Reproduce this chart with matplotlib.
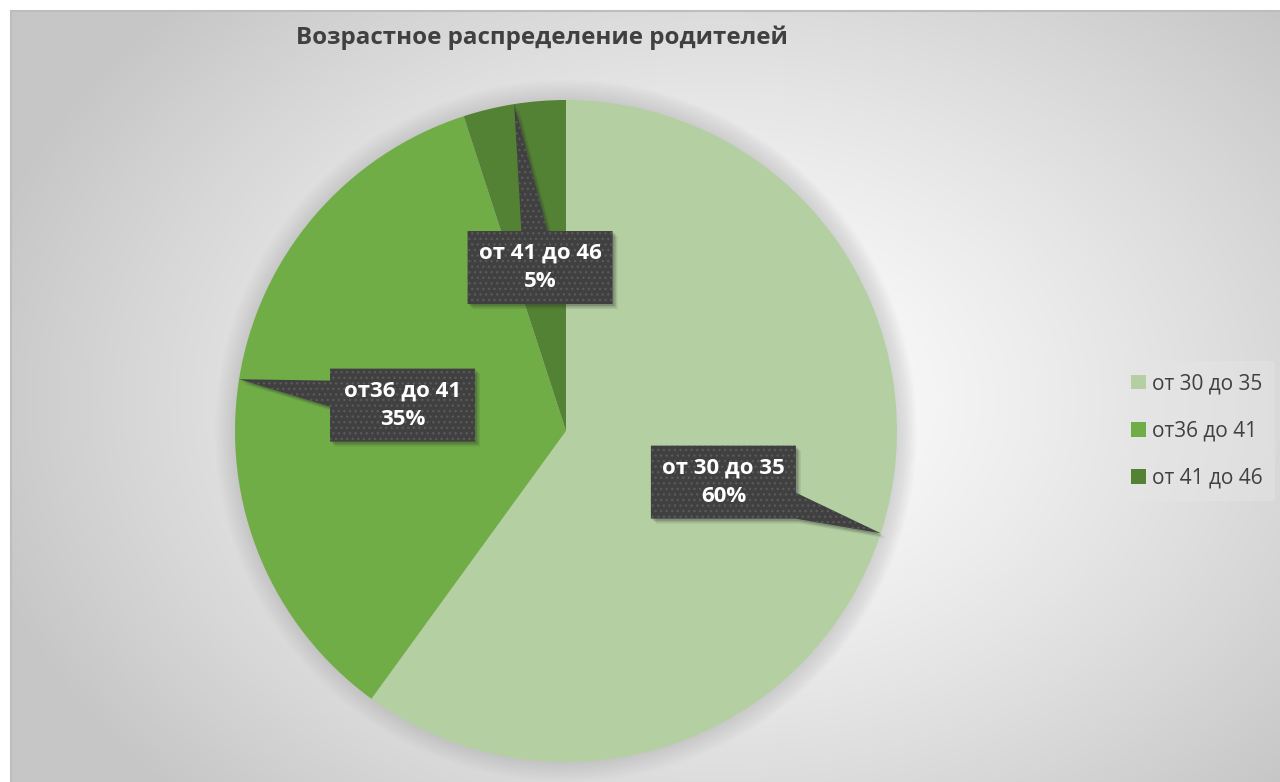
import numpy as np
import matplotlib
matplotlib.use("Agg")
import matplotlib.pyplot as plt
from matplotlib.patches import Polygon, Patch

# ---- data ----
title = "Возрастное распределение родителей"
categories = ["от 30 до 35", "от36 до 41", "от 41 до 46"]
values = [60, 35, 5]
colors = ["#B4D0A3", "#70AD47", "#548235"]

W, H = 1280, 782
plt.rcParams['font.family'] = ['Open Sans', 'DejaVu Sans']
plt.rcParams['hatch.linewidth'] = 1.0
fig = plt.figure(figsize=(W / 100, H / 100), dpi=100)
fig.patch.set_facecolor("white")

# ---- background (radial gradient chart area) ----
x0, y0 = 11, 11
bg = fig.add_axes([x0 / W, 0, (W - x0) / W, (H - y0) / H])
bg.set_axis_off()
gx = np.linspace(x0, W, 400)
gy = np.linspace(y0, H, 260)
XX, YY = np.meshgrid(gx, gy)
d = np.sqrt(((XX - 720) / 760) ** 2 + ((YY - 400) / 560) ** 2)
d = np.clip(d, 0, 1)
shade = 1.0 - 0.22 * d ** 1.3
img = np.dstack([shade, shade, shade])
bg.imshow(img, extent=[0, 1, 0, 1], aspect='auto', origin='upper')
bg.set_xlim(0, 1)
bg.set_ylim(0, 1)
bg.plot([0, 0], [0, 1], color="#bdbdbd", lw=1.5, transform=bg.transAxes, clip_on=False)
bg.plot([0, 1], [1, 1], color="#bdbdbd", lw=1.5, transform=bg.transAxes, clip_on=False)

# ---- pie ----
cx, cy, R = 566, 431, 331
ax = fig.add_axes([(cx - R) / W, (H - cy - R) / H, 2 * R / W, 2 * R / H])
ax.set_axis_off()
# soft shadow halo
for i in range(12):
    circ = plt.Circle((0.0, 0.0), 1.0 + 0.005 * (i + 1), color="#8a8a8a",
                      alpha=0.022, lw=0, clip_on=False)
    ax.add_patch(circ)
wedges, _ = ax.pie(values, colors=colors, startangle=90, counterclock=False,
                   radius=1.0, wedgeprops=dict(linewidth=0))
ax.patch.set_visible(False)
ax.set_xlim(-1, 1)
ax.set_ylim(-1, 1)
ax.set_aspect('equal')

# ---- callout labels ----
px = 1.0 / R  # one pixel in data units
bw, bh = 145 * px, 73 * px
for w, cat, v in zip(wedges, categories, values):
    mid = np.deg2rad((w.theta1 + w.theta2) / 2)
    tip = np.array([np.cos(mid), np.sin(mid)]) * 1.0
    c = np.array([np.cos(mid), np.sin(mid)]) * 0.5
    dvec = tip - c
    hx, hy = bw / 2, bh / 2
    tx = hx / abs(dvec[0]) if dvec[0] != 0 else np.inf
    ty = hy / abs(dvec[1]) if dvec[1] != 0 else np.inf
    t = min(tx, ty)
    e = c + dvec * t
    half = 13 * px
    L, Rr, B, T = c[0] - hx, c[0] + hx, c[1] - hy, c[1] + hy
    if tx < ty:
        xe = Rr if dvec[0] > 0 else L
        b1, b2 = (xe, e[1] + half), (xe, e[1] - half)
        if dvec[0] > 0:
            pts = [(L, T), (Rr, T), b1, tuple(tip), b2, (Rr, B), (L, B)]
        else:
            pts = [(L, T), (Rr, T), (Rr, B), (L, B), b2, tuple(tip), b1]
    else:
        ye = T if dvec[1] > 0 else B
        b1, b2 = (e[0] - half, ye), (e[0] + half, ye)
        if dvec[1] > 0:
            pts = [(L, B), (L, T), b1, tuple(tip), b2, (Rr, T), (Rr, B)]
        else:
            pts = [(L, T), (Rr, T), (Rr, B), b2, tuple(tip), b1, (L, B)]
    pts = np.array(pts)
    for k, a in ((5, 0.10), (3.5, 0.15), (2, 0.2)):
        sh = Polygon(pts + np.array([k * px, -k * px]), closed=True, facecolor="#303030",
                     alpha=a, lw=0, zorder=4)
        ax.add_patch(sh)
    poly = Polygon(pts, closed=True, facecolor="#404040", edgecolor="none", lw=0, zorder=5)
    ax.add_patch(poly)
    hatch = Polygon(pts, closed=True, facecolor="none", edgecolor="#595959", lw=0,
                    hatch="...", zorder=5.5)
    ax.add_patch(hatch)
    ax.text(c[0], c[1], f"{cat}\n{v}%", ha="center", va="center", color="white",
            fontsize=16, fontweight="bold", zorder=6, linespacing=1.45)

# ---- title ----
fig.text(542 / W, 1 - 38 / H, title, ha="center", va="center", fontsize=17.4,
         fontweight="bold", color="#404040")

# ---- legend ----
handles = [Patch(facecolor=col, edgecolor="none") for col in colors]
leg = fig.legend(handles, categories, loc="center left",
                 bbox_to_anchor=(1108 / W, 1 - 431 / H), frameon=True,
                 fontsize=15, labelcolor="#404040", handlelength=0.7, handleheight=0.7,
                 handletextpad=0.3, labelspacing=1.25, borderpad=0.6)
leg.get_frame().set_facecolor("#e6e6e6")
leg.get_frame().set_alpha(0.45)
leg.get_frame().set_edgecolor("none")

fig.savefig("out.png", dpi=100, facecolor=fig.get_facecolor())
